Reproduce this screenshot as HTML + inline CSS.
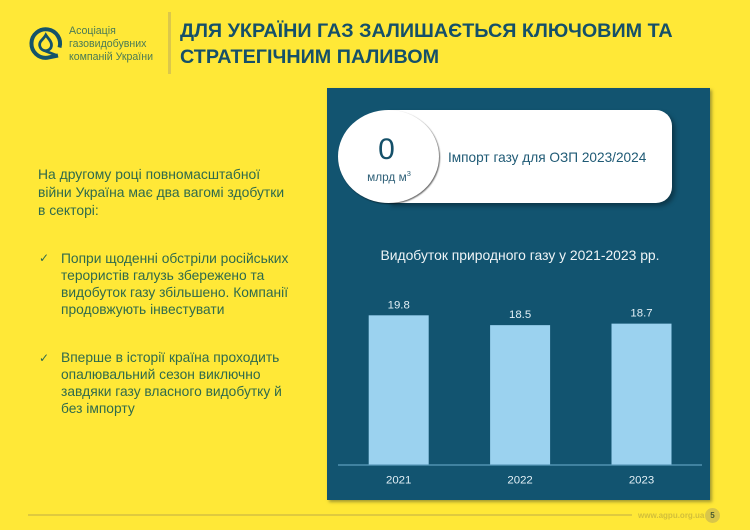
<!DOCTYPE html>
<html lang="uk">
<head>
<meta charset="utf-8">
<title>Газ</title>
<style>
html,body{margin:0;padding:0}
body{width:750px;height:530px;overflow:hidden;position:relative;background:#ffe837;font-family:"Liberation Sans",sans-serif}
.a{position:absolute;white-space:nowrap}
.body-text{color:#2f6a4c;font-size:13.8px;line-height:17px;left:38px}
svg text{font-family:"Liberation Sans",sans-serif}
</style>
</head>
<body>
<svg class="a" style="left:26px;top:25px" width="38" height="38" viewBox="0 0 38 38">
  <path d="M33.5 22.5 A14.3 14.3 0 1 0 21 32.8 L32 30.5" fill="none" stroke="#14536a" stroke-width="4"/>
  <path d="M19.8 10 C22 13.5 25.5 16 25.5 20 C25.5 24 21.5 26.5 18 25.5 C13.5 24 12.5 19 15 16 C16.5 14 18.5 12.5 19.8 10 Z M18 25.5 L31 30.5" fill="none" stroke="#14536a" stroke-width="2.8"/>
</svg>
<div class="a" style="left:69px;top:24.5px;font-size:10.6px;line-height:13px;color:#4a7a55">Асоціація<br>газовидобувних<br>компаній України</div>
<div class="a" style="left:168px;top:12px;width:3px;height:62px;background:#dcc84a"></div>
<div class="a" style="left:180px;top:19px;font-size:19.75px;line-height:25.5px;font-weight:bold;color:#155069">ДЛЯ УКРАЇНИ ГАЗ ЗАЛИШАЄТЬСЯ КЛЮЧОВИМ ТА<br>СТРАТЕГІЧНИМ ПАЛИВОМ</div>

<div class="a body-text" style="top:164.5px;line-height:18px;font-size:13.9px">На другому році повномасштабної<br>війни Україна має два вагомі здобутки<br>в секторі:</div>

<div class="a" style="left:39px;top:251px;font-size:12px;color:#2f6a4c;font-family:'DejaVu Sans',sans-serif">✓</div>
<div class="a body-text" style="left:61px;top:249.5px">Попри щоденні обстріли російських<br>терористів галузь збережено та<br>видобуток газу збільшено. Компанії<br>продовжують інвестувати</div>

<div class="a" style="left:39px;top:351px;font-size:12px;color:#2f6a4c;font-family:'DejaVu Sans',sans-serif">✓</div>
<div class="a body-text" style="left:61px;top:349px">Вперше в історії країна проходить<br>опалювальний сезон виключно<br>завдяки газу власного видобутку й<br>без імпорту</div>

<div class="a" style="left:327px;top:88px;width:383px;height:412px;background:#125470;box-shadow:2px 2px 3px rgba(90,90,40,.55)"></div>
<div class="a" style="left:388px;top:110px;width:284px;height:93px;background:#fff;border-radius:0 16px 16px 0;box-shadow:3px 3px 5px rgba(0,0,0,.35)"></div>
<div class="a" style="left:338px;top:110px;width:101px;height:93px;background:#fff;border-radius:50%;box-shadow:1px 1px 1.5px rgba(0,0,0,.6)"></div>
<div class="a" style="left:338px;top:132px;width:97px;text-align:center;font-size:30px;line-height:36px;color:#155069">0</div>
<div class="a" style="left:339px;top:168.5px;width:100px;text-align:center;font-size:11.8px;line-height:16px;color:#2f6078">млрд м<sup style="font-size:7.5px;line-height:0">3</sup></div>
<div class="a" style="left:448px;top:149px;font-size:13.65px;line-height:17px;color:#1f5a75">Імпорт газу для ОЗП 2023/2024</div>

<svg class="a" id="chart" style="left:0;top:0" width="750" height="530"></svg>

<div class="a" style="left:28px;top:514px;width:604px;height:2px;background:#dfca3e"></div>
<div class="a" style="left:638px;top:510px;font-size:8px;line-height:11px;font-weight:bold;color:#d2bf3a">www.agpu.org.ua</div>
<div class="a" style="left:705px;top:507.5px;width:15px;height:15px;border-radius:50%;background:#d9c64a;color:#4a5a30;font-size:8px;font-weight:bold;line-height:15px;text-align:center">5</div>

<script>
const categories = ['2021', '2022', '2023'];
const values = [19.8, 18.5, 18.7];
const chartTitle = 'Видобуток природного газу у 2021-2023 рр.';

const NS = 'http://www.w3.org/2000/svg';
const svg = document.getElementById('chart');
const baseY = 465, pxPerUnit = 7.56, firstCenter = 398.7, step = 121.4, barW = 60;
const xScale = function (i) { return firstCenter + i * step; };
const yScale = function (v) { return baseY - v * pxPerUnit; };

function addText(str, x, y, size, fill) {
  const t = document.createElementNS(NS, 'text');
  t.setAttribute('x', x);
  t.setAttribute('y', y);
  t.setAttribute('text-anchor', 'middle');
  t.setAttribute('font-size', size);
  t.setAttribute('fill', fill);
  t.textContent = str;
  svg.appendChild(t);
  return t;
}

const title = addText(chartTitle, 520, 260, 13.9, '#eef4f6');



values.forEach(function (v, i) {
  const r = document.createElementNS(NS, 'rect');
  r.setAttribute('x', xScale(i) - barW / 2);
  r.setAttribute('y', yScale(v));
  r.setAttribute('width', barW);
  r.setAttribute('height', baseY - yScale(v));
  r.setAttribute('fill', '#9bd2ef');
  
  
  svg.appendChild(r);

  const lab = addText(v.toFixed(1), xScale(i), yScale(v) - 7, 11.4, '#e3f0f6');
  
  

  const tick = addText(categories[i], xScale(i), 483.5, 11.4, '#e3f0f6');
  
  
});

const axis = document.createElementNS(NS, 'line');
axis.setAttribute('x1', 338);
axis.setAttribute('x2', 702);
axis.setAttribute('y1', baseY);
axis.setAttribute('y2', baseY);
axis.setAttribute('stroke', '#5d9dbd');
axis.setAttribute('stroke-width', 1.2);


svg.appendChild(axis);
</script>
</body>
</html>
